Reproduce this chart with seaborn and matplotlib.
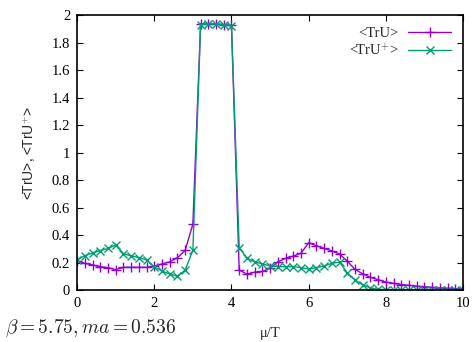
import matplotlib
matplotlib.use("Agg")
import matplotlib.pyplot as plt
import seaborn as sns
import pandas as pd

mu_T = [0.0, 0.2, 0.4, 0.6, 0.8, 1.0, 1.2, 1.4, 1.6, 1.8,
        2.0, 2.2, 2.4, 2.6, 2.8, 3.0, 3.2, 3.4, 3.6, 3.8,
        4.0, 4.2, 4.4, 4.6, 4.8, 5.0, 5.2, 5.4, 5.6, 5.8,
        6.0, 6.2, 6.4, 6.6, 6.8, 7.0, 7.2, 7.4, 7.6, 7.8,
        8.0, 8.2, 8.4, 8.6, 8.8, 9.0, 9.2, 9.4, 9.6, 9.8, 10.0]

tru = [0.213, 0.194, 0.182, 0.170, 0.163, 0.148, 0.165, 0.165, 0.165, 0.165,
       0.172, 0.190, 0.205, 0.235, 0.288, 0.480, 1.935, 1.935, 1.935, 1.930,
       1.925, 0.145, 0.116, 0.130, 0.135, 0.158, 0.205, 0.230, 0.247, 0.267,
       0.344, 0.322, 0.303, 0.284, 0.262, 0.210, 0.150, 0.118, 0.092, 0.075,
       0.058, 0.048, 0.040, 0.034, 0.028, 0.024, 0.019, 0.015, 0.012, 0.010, 0.008]

tru_dag = [0.220, 0.250, 0.270, 0.287, 0.302, 0.327, 0.265, 0.248, 0.236, 0.218,
           0.168, 0.138, 0.116, 0.100, 0.145, 0.290, 1.930, 1.935, 1.935, 1.930,
           1.920, 0.308, 0.232, 0.205, 0.190, 0.175, 0.170, 0.170, 0.170, 0.163,
           0.152, 0.163, 0.175, 0.194, 0.203, 0.125, 0.073, 0.038, 0.015, 0.005,
           0.003, 0.002, 0.002, 0.002, 0.002, 0.002, 0.002, 0.002, 0.002, 0.002, 0.002]

x_ticks = [0, 2, 4, 6, 8, 10]
y_ticks = [0, 0.2, 0.4, 0.6, 0.8, 1, 1.2, 1.4, 1.6, 1.8, 2]
y_tick_labels = ["0", "0.2", "0.4", "0.6", "0.8", "1", "1.2", "1.4", "1.6", "1.8", "2"]

PURPLE = "#9400D3"
GREEN = "#009E73"

sns.set_style("ticks")
plt.rcParams['font.family'] = ['Liberation Serif', 'DejaVu Serif']
plt.rcParams['mathtext.fontset'] = 'cm'

fig = plt.figure(figsize=(4.73, 3.42), dpi=100)
ax = fig.add_axes([0.163, 0.152, 0.816, 0.804])

df = pd.DataFrame({"mu": mu_T, "tru": tru, "trud": tru_dag})
sns.lineplot(data=df, x="mu", y="tru", ax=ax, color=PURPLE, marker="+",
             markersize=7, markeredgewidth=1.0, markeredgecolor=PURPLE,
             linewidth=1.0, label="<TrU>")
sns.lineplot(data=df, x="mu", y="trud", ax=ax, color=GREEN, marker="x",
             markersize=5.5, markeredgewidth=1.0, markeredgecolor=GREEN,
             linewidth=1.0, label="<TrU$^{+}$>")

ax.set_xlim(0, 10)
ax.set_ylim(0, 2)
ax.set_xticks(x_ticks)
ax.set_xticklabels([str(t) for t in x_ticks])
ax.set_yticks(y_ticks)
ax.set_yticklabels(y_tick_labels)
ax.tick_params(direction="in", top=True, right=True, length=4, width=0.8,
               labelsize=10.5, colors="black", pad=5)
for s in ax.spines.values():
    s.set_linewidth(1.2)
    s.set_color("black")

ax.set_xlabel("μ/T", fontsize=10.5, labelpad=12)
ax.set_ylabel("<TrU>, <TrU$^{+}$>", fontsize=10, labelpad=10,
              family=['Liberation Sans', 'DejaVu Sans'])

leg = ax.legend(loc="upper right", frameon=False, markerfirst=False,
                fontsize=10.5, handlelength=3.0, borderaxespad=0.4,
                labelspacing=0.15, handletextpad=0.6)
for t in leg.get_texts():
    t.set_ha("right")

fig.text(0.01, 0.04, r"$\beta = 5.75, ma = 0.536$", fontsize=14, ha="left", va="center")

fig.savefig("out.png", dpi=100)
